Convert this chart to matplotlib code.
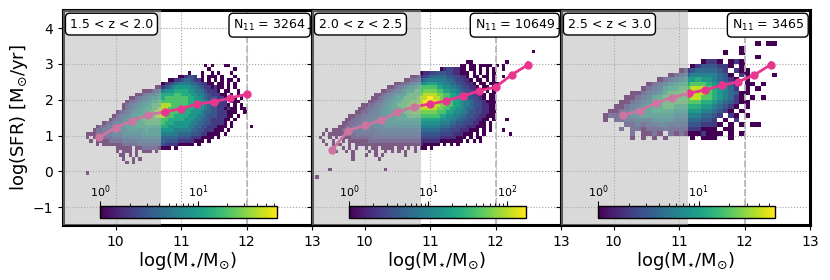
import numpy as np
import matplotlib
matplotlib.use("Agg")
import matplotlib.pyplot as plt
from matplotlib.colors import LogNorm
from matplotlib.ticker import NullFormatter

# counts per histogram cell, keyed by the character used in the grids below
LEVEL_COUNTS = {"1": 1, "2": 2, "3": 3, "4": 4, "5": 6, "6": 9, "7": 13,
                "8": 20, "9": 40, "a": 60, "b": 100, "c": 170}

# ---- panel 1: 1.5 < z < 2.0  (cells 0.05 x 0.1 dex, first column 9.5, top row 2.9)
P1_GRID = (9.5, 0.05, 2.9, 0.1)
P1_ROWS = [
    "..........|..........|..........|.......1.1|...11.....|..",
    "..........|..........|..........|........1.|......1...|..",
    "..........|..........|..........|..1...1..1|.1...1....|..",
    "..........|..........|.........1|12332.1.11|1.1...1...|..",
    "..........|..........|......1122|3443221.1.|1.1.11.1..|..",
    "..........|..........|....122345|5554432211|.11.1.1...|..",
    "..........|..........|..11234566|6665543221|211.1.1...|..",
    "..........|........11|1234566677|7766554322|21.11..1..|..",
    "..........|......1123|4456777788|7776655432|2211.1.1..|..",
    "..........|....112344|5667788888|8877665433|3221.11.1.|..",
    "..........|...1223455|6778888888|8877766543|3322.211..|..",
    "..........|..12344566|7888999888|8877766543|32221.1.1.|..",
    "..........|..12345667|7889998888|8777666543|3221211.11|..",
    "..........|1223456677|8899998887|7776665443|3222111..1|..",
    ".........1|2344566778|8899988877|7766655433|322211.1..|..",
    "........12|3345667788|8888887777|7666554432|22211.1...|..",
    "......1223|4456677778|8888877766|6665544332|2221.1....|..",
    "....122334|4556667777|7777776666|6655443322|2111.1....|.1",
    "...1223344|5555666667|6666666655|5554433222|111.1.....|..",
    ".111223334|4455555566|6666555554|4443332211|11.1......|..",
    ".1.1122223|3344444455|5555444443|3332221111|.1........|..",
    "..1.111122|2233333444|4444433332|2222111.1.|..........|..",
    "....1.1111|1122222333|3333322221|1111.1....|..........|..",
    "..........|11111.1122|2221111.1.|..........|..........|..",
    "..........|1.111.1.11|1.1.......|..........|..........|..",
    "..........|.11.1.1...|..........|..........|..........|..",
    "..........|..1..1.1..|..........|..........|..........|..",
    "..........|...1.1....|..........|..........|..........|..",
    "..........|..........|..........|..........|..........|..",
    "..........|..........|..........|..........|..........|..",
    ".1........|..........|..........|..........|..........|..",
]

# ---- panel 2: 2.0 < z < 2.5  (cells 0.05 x 0.1 dex, first column 9.0, top row 3.3)
P2_GRID = (9.0, 0.05, 3.3, 0.1)
E = ".........."
P2_ROWS = [
    "|".join([E, E, E, E, E, E, E, ".1........"]),
    "|".join([E] * 8),
    "|".join([E] * 8),
    "|".join([E, E, E, E, E, ".11.......", "...1......", E]),
    "|".join([E, E, E, E, ".........1", "1.11.1111.", "1.1.......", E]),
    "|".join([E, E, E, E, "...1233221", "1.11.1.1.1", "..1.......", E]),
    "|".join([E, E, E, ".......122", "3344433221", "11.1.1.1.1", E, E]),
    "|".join([E, E, E, "....112234", "5555544332", "21.11.11.1", "..1.......", E]),
    "|".join([E, E, E, "..11223456", "6666655433", "221.11.1.1", E, E]),
    "|".join([E, E, ".........1", "1223456778", "8877665543", "3221.11.11", "1.........", E]),
    "|".join([E, E, ".......112", "3456788999", "9988776654", "33221.11.1", E, E]),
    "|".join([E, E, ".....11234", "56788999aa", "aa99887765", "443221.1.1", E, E]),
    "|".join([E, E, "...1123456", "7789999abb", "bbaa998876", "5543221.11", E, E]),
    "|".join([E, E, "..11234567", "889999abbc", "cbba998877", "6543321.11", E, E]),
    "|".join([E, E, ".112345678", "8999aaabcc", "ccbba99887", "6654332111", E, E]),
    "|".join([E, ".........1", "1223456788", "999aaabbcc", "cbbaa99887", "6654432211", E, E]),
    "|".join([E, "........11", "2334567788", "899aaaabbb", "bbaa998877", "6554332211", E, E]),
    "|".join([E, ".......112", "2344566778", "8899aaaaaa", "aa99988776", "6544332211", E, E]),
    "|".join([E, ".....11223", "3445566778", "8889999999", "9998877665", "5443322111", E, E]),
    "|".join([E, "....112233", "4455667777", "8888888888", "8887776655", "44332211.1", "...1......", E]),
    "|".join([E, "...1122334", "4455666777", "7777777777", "7776665544", "3332211.1.", E, E]),
    "|".join([E, "..11223334", "4445556666", "6666666666", "6665554433", "3222111.1.", E, E]),
    "|".join(["........1.", "1112223334", "4444555555", "5555555555", "5554443332", "22111.1.1.", "..1.......", E]),
    "|".join([".......1.1", "1111222333", "3334444444", "4444444444", "4443333222", "111.1.1...", "....1.....", E]),
    "|".join(["......1..1", ".1.1112222", "2233333333", "3333333333", "3332222211", "1.1.11....", E, E]),
    "|".join([".......1..", "1..1.11111", "1222222222", "2222222222", "2221111111", ".1.1.1....", E, E]),
    "|".join(["........1.", "1.1..1.111", "1111111111", "1111111211", "111.1.1.1.", E, E, E]),
    "|".join([E, "...1.1.1..", "1.11.1111.", "11.1.1.11.", "1.........", E, E, E]),
    "|".join([E, ".1..1.1...", ".1.1..1.1.", "1.1..1....", E, E, E, E]),
    "|".join([E, "......1...", "1..1.1....", "..1.......", E, E, E, E]),
    "|".join([E, "......1...", "....1.....", E, E, E, E, E]),
    "|".join([E] * 8),
    "|".join([E] * 8),
    "|".join([".........1", E, "......1...", E, E, E, E, E]),
    "|".join([E] * 8),
    "|".join([".....1....", E, E, E, E, E, E, E]),
]

# ---- panel 3: 2.5 < z < 3.0  (cells 1/12 x 1/8 dex, first column 9.5, top row 3.5)
P3_GRID = (9.5, 1 / 12, 3.5, 0.125)
F = "......"
P3_ROWS = [
    "|".join([F, F, F, F, F, "..1.11"]),
    "|".join([F, F, F, F, ".....1", F]),
    "|".join([F, F, F, F, "..1..1", F]),
    "|".join([F, F, F, F, F, "..1..."]),
    "|".join([F, F, F, "....12", "21.121", F]),
    "|".join([F, F, F, "..1233", "3221.1", F]),
    "|".join([F, F, F, "123444", "432.21", "1....."]),
    "|".join([F, F, "....12", "345555", "5431.2", "1....1"]),
    "|".join([F, F, "..1234", "566766", "54321.", "1....."]),
    "|".join([F, F, "123456", "778887", "65432.", "11.1.."]),
    "|".join([F, ".....1", "234677", "889998", "76542.", "1.1..."]),
    "|".join([F, "...112", "345788", "899998", "765431", "1....."]),
    "|".join([F, "..1123", "467888", "889988", "765421", ".1.1.."]),
    "|".join([F, ".11234", "567888", "888877", "654321", "1....."]),
    "|".join([F, "112345", "677887", "777766", "54321.", "1....."]),
    "|".join([".....1", "123456", "677776", "666655", "4321.1", F]),
    "|".join(["....12", "234556", "666665", "555544", "32.21.", "1....."]),
    "|".join(["....1.", "223344", "455554", "444433", "2.1.2.", F]),
    "|".join([F, "..2232", "334433", "333322", "21.1.1", ".11..."]),
    "|".join([F, ".2.221", "222322", "222211", "1.11..", F]),
    "|".join([F, "...2.1", "121.21", "211121", "11.1.1", F]),
    "|".join([F, "...1.1", ".1.1..", "..1.11", "1..1..", F]),
]

# running median (pink line)
P1_LINE_X = [9.75, 10.0, 10.25, 10.5, 10.75, 11.0, 11.25, 11.5, 11.75, 12.0]
P1_LINE_Y = [0.95, 1.22, 1.41, 1.58, 1.66, 1.75, 1.88, 1.94, 2.05, 2.15]
P1_LINE_ERR = [0.04, 0.02, 0.02, 0.02, 0.02, 0.02, 0.02, 0.03, 0.03, 0.06]
P2_LINE_X = [9.5, 9.75, 10.0, 10.25, 10.5, 10.75, 11.0, 11.25, 11.5, 11.75, 12.0, 12.25, 12.5]
P2_LINE_Y = [0.59, 1.14, 1.28, 1.42, 1.65, 1.80, 1.88, 1.97, 2.10, 2.25, 2.35, 2.70, 2.98]
P2_LINE_ERR = [0.1, 0.04, 0.02, 0.02, 0.02, 0.02, 0.02, 0.02, 0.02, 0.03, 0.04, 0.06, 0.1]
P3_LINE_X = [10.15, 10.4, 10.65, 10.9, 11.15, 11.4, 11.65, 11.9, 12.15, 12.4]
P3_LINE_Y = [1.57, 1.69, 1.91, 2.06, 2.18, 2.27, 2.40, 2.50, 2.69, 2.98]
P3_LINE_ERR = [0.03, 0.02, 0.02, 0.02, 0.02, 0.02, 0.02, 0.03, 0.05, 0.1]

Z_LABELS = ["1.5 < z < 2.0", "2.0 < z < 2.5", "2.5 < z < 3.0"]
N11 = [3264, 10649, 3465]
MASS_LIMITS = [10.7, 10.86, 11.14]
COUNT_MAX = [65, 175, 58]
CBAR_TICKS = [[1, 10], [1, 10, 100], [1, 10]]

panels = [
    (P1_GRID, P1_ROWS, P1_LINE_X, P1_LINE_Y, P1_LINE_ERR),
    (P2_GRID, P2_ROWS, P2_LINE_X, P2_LINE_Y, P2_LINE_ERR),
    (P3_GRID, P3_ROWS, P3_LINE_X, P3_LINE_Y, P3_LINE_ERR),
]

PINK = "#e8368f"

fig, axes = plt.subplots(1, 3, figsize=(8.3, 2.8), dpi=100, sharey=True)
fig.subplots_adjust(left=0.076, right=0.976, bottom=0.196, top=0.964, wspace=0)

for i, ax in enumerate(axes):
    (x0, dx, ytop, dy), rows, lx, ly, lerr = panels[i]

    counts = np.array([[LEVEL_COUNTS.get(c, 0) for c in r.replace("|", "")] for r in rows], float)
    counts = counts[::-1]
    nrow, ncol = counts.shape
    xedges = x0 + dx * np.arange(ncol + 1)
    yedges = ytop - (nrow - 1) * dy + dy * np.arange(nrow + 1)
    mesh = ax.pcolormesh(xedges, yedges, np.ma.masked_equal(counts, 0), cmap="viridis",
                         norm=LogNorm(vmin=1, vmax=COUNT_MAX[i]), zorder=1)

    ax.errorbar(lx, ly, yerr=lerr, color=PINK, lw=2, marker="o", ms=5,
                elinewidth=1.5, capsize=0, zorder=2)

    # mass-incomplete region
    ax.axvspan(9.2, MASS_LIMITS[i], color="#b4b4b4", alpha=0.5, lw=0, zorder=3)
    ax.axvline(12, color="#b8b8b8", ls="--", lw=1.3, zorder=1.5)

    ax.set_xlim(9.2, 13.0)
    ax.set_ylim(-1.5, 4.5)
    ax.set_xticks([10, 11, 12, 13])
    ax.set_yticks([-1, 0, 1, 2, 3, 4])
    ax.grid(True, ls=":", color="#a0a0a0", lw=0.8)
    ax.set_axisbelow(True)
    ax.tick_params(labelsize=10)
    for sp in ax.spines.values():
        sp.set_linewidth(2.2)

    ax.set_xlabel(r"log(M$_{\star}$/M$_{\odot}$)", fontsize=13, labelpad=1)

    box = dict(boxstyle="round,pad=0.35", fc="white", ec="black", lw=1)
    ax.text(0.027, 0.965, Z_LABELS[i], transform=ax.transAxes, ha="left", va="top",
            fontsize=9, bbox=box, zorder=10)
    ax.text(0.975, 0.965, r"N$_{11}$ = %d" % N11[i], transform=ax.transAxes, ha="right",
            va="top", fontsize=9, bbox=box, zorder=10)

    cax = ax.inset_axes([0.15, 0.033, 0.71, 0.056])
    cb = fig.colorbar(mesh, cax=cax, orientation="horizontal")
    cb.set_ticks(CBAR_TICKS[i])
    cax.xaxis.set_ticks_position("top")
    cax.xaxis.set_minor_formatter(NullFormatter())
    cax.tick_params(labelsize=8, pad=1)
    cb.outline.set_linewidth(1)

axes[0].set_ylabel(r"log(SFR) [M$_{\odot}$/yr]", fontsize=13)
axes[0].yaxis.set_label_coords(-0.134, 0.5)

fig.savefig("out.png", dpi=100)
